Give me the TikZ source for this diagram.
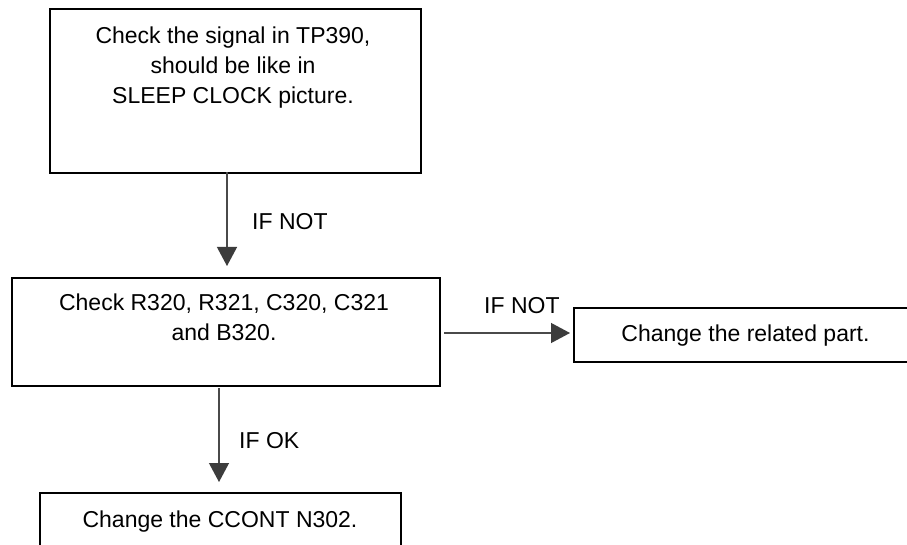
\documentclass[tikz,border=0pt]{standalone}
\usepackage{fontspec}
\setmainfont{Liberation Sans}
\usetikzlibrary{arrows.meta}
\definecolor{linegray}{HTML}{4A4A4A}
\definecolor{headgray}{HTML}{3C3C3C}
\tikzset{
  stepbox/.style={draw=black, line width=1.6pt, fill=none, inner sep=0pt},
  boxtext/.style={font=\fontsize{23}{30}\selectfont, align=center, inner sep=0pt, anchor=north},
  lbl/.style={font=\fontsize{23}{30}\selectfont, inner sep=0pt, anchor=base west},
  flow/.style={draw=linegray, line width=1.2pt, -{Triangle[length=19pt,width=20pt,fill=headgray,color=headgray]}}
}
\begin{document}
\begin{tikzpicture}[x=1pt,y=-1pt]
\clip (0,0) rectangle (907,545);
\fill[white] (0,0) rectangle (907,545);
% boxes
\node[stepbox, minimum width=371pt, minimum height=164pt, anchor=north west] (b1) at (49,8) {};
\node[stepbox, minimum width=428pt, minimum height=108pt, anchor=north west] (b2) at (11,277) {};
\node[stepbox, minimum width=345pt, minimum height=54pt, anchor=north west] (b3) at (573,307) {};
\node[stepbox, minimum width=361pt, minimum height=70pt, anchor=north west] (b4) at (39,492) {};
% texts
\node[boxtext] (t1) at (233,26.2) {Check the signal in TP390,\\should be like in\\SLEEP CLOCK picture.};
\node[boxtext] (t2) at (224,293.2) {Check R320, R321, C320, C321\\and B320.};
\node[boxtext, anchor=base] (t3) at (745.5,341) {Change the related part.};
\node[boxtext, anchor=base] (t4) at (220,527) {Change the CCONT N302.};
% connectors
\coordinate (a1s) at (227,172);
\coordinate (a1e) at (227,266);
\draw[flow] (a1s) -- (a1e);
\coordinate (a2s) at (444,333);
\coordinate (a2e) at (570,333);
\draw[flow] (a2s) -- (a2e);
\coordinate (a3s) at (219,388);
\coordinate (a3e) at (219,482);
\draw[flow] (a3s) -- (a3e);
% labels
\node[lbl] (l1) at (252,230) {IF NOT};
\node[lbl] (l2) at (484,313) {IF NOT};
\node[lbl] (l3) at (239,448) {IF OK};
\end{tikzpicture}
\end{document}
